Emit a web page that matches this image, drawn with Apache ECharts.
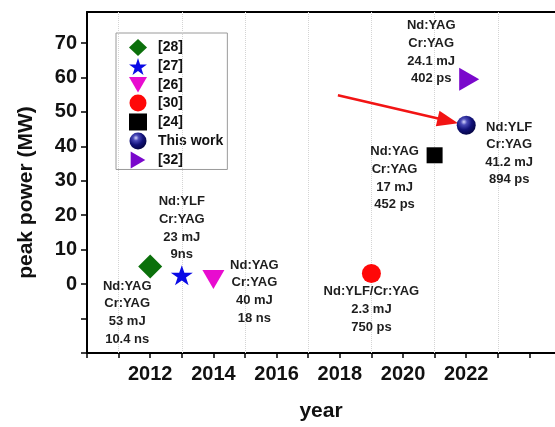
<!DOCTYPE html>
<html>
<head>
<meta charset="utf-8">
<script src="https://cdn.jsdelivr.net/npm/echarts@6/dist/echarts.min.js"></script>
<style>
  html, body { margin: 0; padding: 0; background: #fff; }
  #chart { width: 555px; height: 427px; }
</style>
</head>
<body>
<div id="chart"></div>
<script>
// Peak power of passively Q-switched Cr:YAG lasers by publication year
const seriesNames = ['[28]', '[27]', '[26]', '[30]', '[24]', 'This work', '[32]'];
const years = [2012, 2013, 2014, 2019, 2021, 2022, 2022];
const peakPowerMW = [5.1, 2.6, 2.2, 3.1, 37.4, 46.1, 59.5];
const pointLabels = [
  'Nd:YAG\nCr:YAG\n53 mJ\n10.4 ns',
  'Nd:YLF\nCr:YAG\n23 mJ\n9ns',
  'Nd:YAG\nCr:YAG\n40 mJ\n18 ns',
  'Nd:YLF/Cr:YAG\n2.3 mJ\n750 ps',
  'Nd:YAG\nCr:YAG\n17 mJ\n452 ps',
  'Nd:YLF\nCr:YAG\n41.2 mJ\n894 ps',
  'Nd:YAG\nCr:YAG\n24.1 mJ\n402 ps'
];
const gridYears = [2011, 2013, 2015, 2017, 2019, 2021, 2023];
const xTickLabels = [2012, 2014, 2016, 2018, 2020, 2022];
const yTickLabels = [0, 10, 20, 30, 40, 50, 60, 70];
// arrow pointing at this work (tail, head centre)
const arrowFrom = [2017.94, 54.8];
const arrowTo = [2021.42, 47.4];

const FONT = '"Liberation Sans", Arial, Helvetica, sans-serif';

const STAR = 'path://M50,0 L61.23,34.55 L97.55,34.55 L68.16,55.9 L79.39,90.45 L50,69.1 L20.61,90.45 L31.84,55.9 L2.45,34.55 L38.77,34.55 Z';
const TRI_DOWN = 'path://M0,0 L100,0 L50,86 Z';
const TRI_RIGHT = 'path://M0,0 L86,50 L0,100 Z';

const sphere = new echarts.graphic.RadialGradient(0.38, 0.32, 0.75, [
  { offset: 0, color: '#d8d8ff' },
  { offset: 0.22, color: '#4a4ab8' },
  { offset: 0.55, color: '#12127a' },
  { offset: 1, color: '#02023a' }
]);

// marker look and label placement for each series
const markerStyles = [
  { symbol: 'diamond', size: 24, color: '#0b700b', offset: [0, 0], labelOffset: [-23, 46] },
  { symbol: STAR, size: [22, 20], color: '#0a0ae6', offset: [0, 0], labelOffset: [0, -47] },
  { symbol: TRI_DOWN, size: [22, 19], color: '#e80ccf', offset: [0, 3], labelOffset: [41, 12] },
  { symbol: 'circle', size: 19, color: '#ff0808', offset: [0, 0], labelOffset: [0, 36] },
  { symbol: 'rect', size: 16, color: '#000000', offset: [0, 0], labelOffset: [-40, 23] },
  { symbol: 'circle', size: 19, color: sphere, offset: [0, 0], labelOffset: [43, 28] },
  { symbol: TRI_RIGHT, size: [20, 23], color: '#7a08cc', offset: [3, 0], labelOffset: [-38, -27] }
];

const pointSeries = seriesNames.map((name, i) => {
  const s = markerStyles[i];
  return {
    name: name,
    type: 'scatter',
    symbol: s.symbol,
    symbolSize: s.size,
    symbolOffset: s.offset,
    itemStyle: { color: s.color, opacity: 1 },
    z: 5,
    data: [[years[i], peakPowerMW[i]]],
    label: {
      show: true,
      formatter: pointLabels[i],
      position: 'inside',
      offset: s.labelOffset,
      align: 'center',
      verticalAlign: 'middle',
      color: '#1e1e1e',
      fontFamily: FONT,
      fontWeight: 'bold',
      fontSize: 13,
      lineHeight: 17.6
    }
  };
});

const helperSeries = {
  name: 'guides',
  type: 'scatter',
  data: [],
  silent: true,
  z: 1,
  markLine: {
    silent: true,
    symbol: ['none', 'none'],
    label: { show: false },
    lineStyle: { type: 'dotted', color: '#d4d4d4', width: 1 },
    data: gridYears.map(y => ({ xAxis: y }))
  }
};

const arrowSeries = {
  name: 'arrow',
  type: 'scatter',
  data: [],
  silent: true,
  z: 4,
  markLine: {
    silent: true,
    symbol: ['none', 'triangle'],
    symbolSize: [16, 21],
    label: { show: false },
    lineStyle: { type: 'solid', color: '#f21414', width: 2.6, opacity: 1 },
    itemStyle: { color: '#f21414' },
    data: [[{ coord: arrowFrom }, { coord: arrowTo }]]
  }
};

const chart = echarts.init(document.getElementById('chart'), null, { renderer: 'canvas' });
chart.setOption({
  animation: false,
  backgroundColor: '#ffffff',
  textStyle: { fontFamily: FONT },
  grid: { left: 87, right: 0, top: 12, bottom: 70, containLabel: false },
  legend: {
    data: seriesNames,
    orient: 'vertical',
    left: 116,
    top: 33,
    padding: [6, 4, 1, 13],
    itemWidth: 18,
    itemHeight: 17,
    itemGap: 2,
    borderColor: '#9a9a9a',
    borderWidth: 1,
    backgroundColor: '#ffffff',
    textStyle: { fontFamily: FONT, fontWeight: 'bold', fontSize: 14, color: '#111', padding: [0, 0, 0, 6] }
  },
  xAxis: [{
    type: 'value',
    min: 2010,
    max: 2024.81,
    interval: 1,
    name: 'year',
    nameLocation: 'middle',
    nameGap: 48,
    nameTextStyle: { fontFamily: FONT, fontWeight: 'bold', fontSize: 21, color: '#111' },
    axisLine: { show: true, onZero: false, lineStyle: { color: '#000', width: 2 } },
    axisTick: { show: true, inside: false, length: 5, lineStyle: { color: '#000', width: 1.5 } },
    axisLabel: {
      margin: 11,
      fontFamily: FONT,
      fontWeight: 'bold',
      fontSize: 20,
      color: '#111',
      showMaxLabel: false,
      formatter: v => (xTickLabels.indexOf(v) >= 0 ? String(v) : '')
    },
    splitLine: { show: false }
  }, {
    type: 'value',
    position: 'top',
    min: 2010,
    max: 2024.81,
    axisLine: { show: true, onZero: false, lineStyle: { color: '#000', width: 2 } },
    axisTick: { show: false },
    axisLabel: { show: false },
    splitLine: { show: false }
  }],
  yAxis: {
    type: 'value',
    min: -20,
    max: 79,
    interval: 10,
    name: 'peak power (MW)',
    nameLocation: 'middle',
    nameGap: 50,
    nameTextStyle: { fontFamily: FONT, fontWeight: 'bold', fontSize: 21, color: '#111', padding: [0, 20, 0, 0] },
    axisLine: { show: true, onZero: false, lineStyle: { color: '#000', width: 2 } },
    axisTick: { show: true, inside: false, length: 6, lineStyle: { color: '#000', width: 1.5 } },
    axisLabel: {
      margin: 10,
      fontFamily: FONT,
      fontWeight: 'bold',
      fontSize: 20,
      color: '#111',
      showMaxLabel: false,
      formatter: v => (yTickLabels.indexOf(v) >= 0 ? String(v) : '')
    },
    splitLine: { show: false }
  },
  series: [helperSeries, arrowSeries].concat(pointSeries)
});
</script>
</body>
</html>
